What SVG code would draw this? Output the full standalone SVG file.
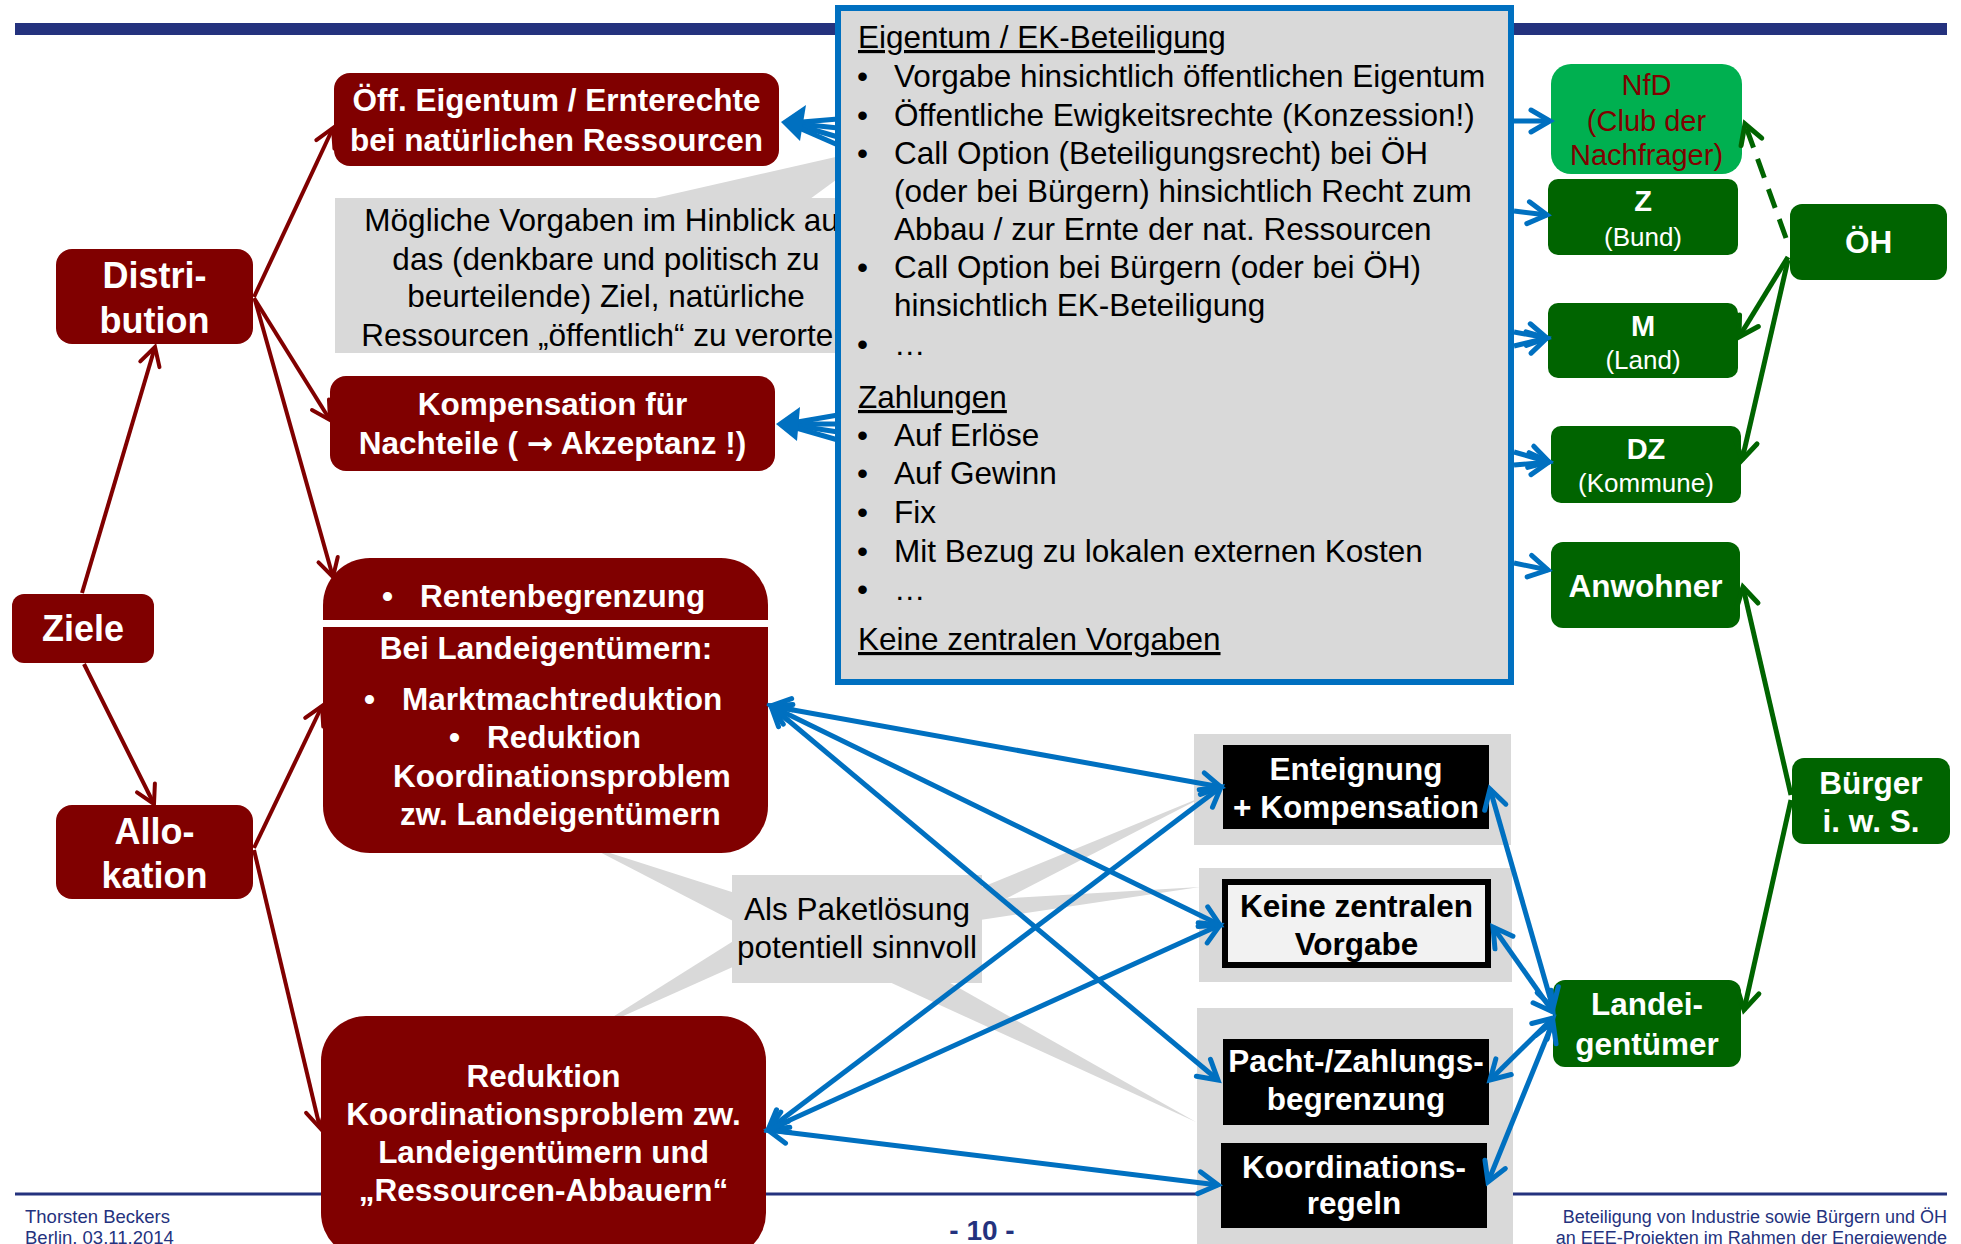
<svg xmlns="http://www.w3.org/2000/svg" width="1961" height="1244" viewBox="0 0 1961 1244">
<defs>
<style>
text{font-family:"Liberation Sans",Arial,"DejaVu Sans",sans-serif;}
.b{font-weight:bold;}
.w{fill:#fff;}
.k{fill:#000;}
.red{fill:#800000;}
.grn{fill:#006400;}
.gray{fill:#d9d9d9;}
.f31{font-size:31.5px;}
.f36{font-size:36px;}
.f29{font-size:29px;}
.f26{font-size:26px;}
.c{text-anchor:middle;}
.u{text-decoration:underline;}
.nv{fill:#24327e;}
.ar{font-family:"DejaVu Sans",sans-serif;}
.bl{fill:none;stroke:#0070c0;stroke-width:5;}
.rl{fill:none;stroke:#800000;stroke-width:4;}
.gl{fill:none;stroke:#006400;stroke-width:5;}
</style>
<marker id="mb" markerUnits="userSpaceOnUse" orient="auto-start-reverse" markerWidth="40" markerHeight="40" viewBox="-30 -20 40 40" refX="0" refY="0" overflow="visible"><path d="M-19,-11 L0,0 L-19,11" fill="none" stroke="#0070c0" stroke-width="5" stroke-linecap="round"/></marker>
<marker id="mr" markerUnits="userSpaceOnUse" orient="auto" markerWidth="40" markerHeight="40" viewBox="-30 -20 40 40" refX="0" refY="0" overflow="visible"><path d="M-18,-10 L0,0 L-18,10" fill="none" stroke="#800000" stroke-width="4" stroke-linecap="round"/></marker>
<marker id="mg" markerUnits="userSpaceOnUse" orient="auto" markerWidth="40" markerHeight="40" viewBox="-30 -20 40 40" refX="0" refY="0" overflow="visible"><path d="M-19,-11 L0,0 L-19,11" fill="none" stroke="#006400" stroke-width="5" stroke-linecap="round"/></marker>
</defs>

<rect x="0" y="0" width="1961" height="1244" fill="#fff"/>
<rect x="15" y="23" width="1932" height="12" fill="#24327e"/>
<line x1="15" y1="1194" x2="1947" y2="1194" stroke="#24327e" stroke-width="3"/>

<g id="callout-moegliche">
<polygon class="gray" points="651,199 840,156 840,177 810,199"/>
<rect class="gray" x="335" y="198" width="560" height="155"/>
<text class="f31 c k" x="606" y="231">Mögliche Vorgaben im Hinblick auf</text>
<text class="f31 c k" x="606" y="270">das (denkbare und politisch zu</text>
<text class="f31 c k" x="606" y="307">beurteilende) Ziel, natürliche</text>
<text class="f31 c k" x="606" y="346">Ressourcen „öffentlich“ zu verorten</text>
</g>

<g id="callout-paket">
<polygon class="gray" points="588,846 735,893 735,922"/>
<polygon class="gray" points="592,1030 735,940 735,966"/>
<polygon class="gray" points="980,888 1207,795 980,912"/>
<polygon class="gray" points="980,900 1200,887 980,920"/>
<polygon class="gray" points="885,980 945,980 1196,1122"/>
<rect class="gray" x="732" y="875" width="250" height="108"/>
<text class="f31 c k" x="857" y="920">Als Paketlösung</text>
<text class="f31 c k" x="857" y="958">potentiell sinnvoll</text>
</g>

<g id="bg-instrumente">
<rect class="gray" x="1194" y="734" width="317" height="111"/>
<rect class="gray" x="1199" y="868" width="313" height="114"/>
<rect class="gray" x="1197" y="1008" width="316" height="250"/>
</g>

<g id="n-ziele"><rect class="red" x="12" y="594" width="142" height="69" rx="12"/>
<text class="f36 b c w" x="83" y="641">Ziele</text></g>
<g id="n-distribution"><rect class="red" x="56" y="249" width="197" height="95" rx="16"/>
<text class="f36 b c w" x="154.5" y="288">Distri-</text><text class="f36 b c w" x="154.5" y="333">bution</text></g>
<g id="n-allokation"><rect class="red" x="56" y="805" width="197" height="94" rx="16"/>
<text class="f36 b c w" x="154.5" y="844">Allo-</text><text class="f36 b c w" x="154.5" y="888">kation</text></g>
<g id="n-oeff"><rect class="red" x="334" y="73" width="445" height="93" rx="16"/>
<text class="f31 b c w" x="556.5" y="111">Öff. Eigentum / Ernterechte</text>
<text class="f31 b c w" x="556.5" y="151">bei natürlichen Ressourcen</text></g>
<g id="n-kompensation"><rect class="red" x="330" y="376" width="445" height="95" rx="16"/>
<text class="f31 b c w" x="552.5" y="415">Kompensation für</text>
<text class="f31 b c w" x="552.5" y="454">Nachteile ( <tspan class="ar">→</tspan> Akzeptanz !)</text></g>
<g id="n-renten"><rect class="red" x="323" y="558" width="445" height="295" rx="47"/>
<rect fill="#fff" x="323" y="620" width="445" height="7"/>
<text class="f31 b w" x="382" y="607">•</text><text class="f31 b w" x="420" y="607">Rentenbegrenzung</text>
<text class="f31 b c w" x="546" y="659">Bei Landeigentümern:</text>
<text class="f31 b w" x="364" y="710">•</text><text class="f31 b w" x="402" y="710">Marktmachtreduktion</text>
<text class="f31 b w" x="449" y="748">•</text><text class="f31 b w" x="487" y="748">Reduktion</text>
<text class="f31 b w" x="393" y="787">Koordinationsproblem</text>
<text class="f31 b w" x="400" y="825">zw. Landeigentümern</text></g>
<g id="n-reduktion"><rect class="red" x="321" y="1016" width="445" height="242" rx="45"/>
<text class="f31 b c w" x="543.5" y="1087">Reduktion</text>
<text class="f31 b c w" x="543.5" y="1125">Koordinationsproblem zw.</text>
<text class="f31 b c w" x="543.5" y="1163">Landeigentümern und</text>
<text class="f31 b c w" x="543.5" y="1201">„Ressourcen-Abbauern“</text></g>

<g id="n-enteignung"><rect fill="#000" x="1223" y="745" width="266" height="84"/>
<text class="f31 b c w" x="1356" y="780">Enteignung</text><text class="f31 b c w" x="1356" y="818">+ Kompensation</text></g>
<g id="n-keine"><rect fill="#f2f2f2" stroke="#000" stroke-width="6" x="1225" y="882" width="263" height="83"/>
<text class="f31 b c k" x="1356.5" y="917">Keine zentralen</text><text class="f31 b c k" x="1356.5" y="955">Vorgabe</text></g>
<g id="n-pacht"><rect fill="#000" x="1223" y="1039" width="266" height="86"/>
<text class="f31 b c w" x="1356" y="1072">Pacht-/Zahlungs-</text><text class="f31 b c w" x="1356" y="1110">begrenzung</text></g>
<g id="n-koordination"><rect fill="#000" x="1221" y="1143" width="266" height="85"/>
<text class="f31 b c w" x="1354" y="1178">Koordinations-</text><text class="f31 b c w" x="1354" y="1214">regeln</text></g>

<g id="n-nfd"><rect fill="#00b050" x="1551" y="64" width="191" height="110" rx="20"/>
<text class="f29 c red" x="1646.5" y="95">NfD</text><text class="f29 c red" x="1646.5" y="131">(Club der</text><text class="f29 c red" x="1646.5" y="165">Nachfrager)</text></g>
<g id="n-z"><rect class="grn" x="1548" y="179" width="190" height="76" rx="10"/>
<text class="f29 b c w" x="1643" y="211">Z</text><text class="f26 c w" x="1643" y="246">(Bund)</text></g>
<g id="n-m"><rect class="grn" x="1548" y="303" width="190" height="75" rx="10"/>
<text class="f29 b c w" x="1643" y="336">M</text><text class="f26 c w" x="1643" y="369">(Land)</text></g>
<g id="n-dz"><rect class="grn" x="1551" y="426" width="190" height="77" rx="10"/>
<text class="f29 b c w" x="1646" y="459">DZ</text><text class="f26 c w" x="1646" y="492">(Kommune)</text></g>
<g id="n-anwohner"><rect class="grn" x="1551" y="542" width="189" height="86" rx="12"/>
<text class="f31 b c w" x="1645.5" y="597">Anwohner</text></g>
<g id="n-landeigentuemer"><rect class="grn" x="1553" y="980" width="188" height="87" rx="12"/>
<text class="f31 b c w" x="1647" y="1015">Landei-</text><text class="f31 b c w" x="1647" y="1055">gentümer</text></g>
<g id="n-oeh"><rect class="grn" x="1790" y="204" width="157" height="76" rx="12"/>
<text class="f31 b c w" x="1868.5" y="253">ÖH</text></g>
<g id="n-buerger"><rect class="grn" x="1792" y="758" width="158" height="86" rx="12"/>
<text class="f31 b c w" x="1871" y="794">Bürger</text><text class="f31 b c w" x="1871" y="832">i. w. S.</text></g>

<g id="n-beteiligung">
<rect x="838" y="8" width="673" height="674" fill="#d9d9d9" stroke="#0070c0" stroke-width="6"/>
<text class="f31 k u" x="858" y="48">Eigentum / EK-Beteiligung</text>
<text class="f31 k" x="857" y="87">•</text><text class="f31 k" x="894" y="87">Vorgabe hinsichtlich öffentlichen Eigentum</text>
<text class="f31 k" x="857" y="126">•</text><text class="f31 k" x="894" y="126">Öffentliche Ewigkeitsrechte (Konzession!)</text>
<text class="f31 k" x="857" y="164">•</text><text class="f31 k" x="894" y="164">Call Option (Beteiligungsrecht) bei ÖH</text>
<text class="f31 k" x="894" y="202">(oder bei Bürgern) hinsichtlich Recht zum</text>
<text class="f31 k" x="894" y="240">Abbau / zur Ernte der nat. Ressourcen</text>
<text class="f31 k" x="857" y="278">•</text><text class="f31 k" x="894" y="278">Call Option bei Bürgern (oder bei ÖH)</text>
<text class="f31 k" x="894" y="316">hinsichtlich EK-Beteiligung</text>
<text class="f31 k" x="857" y="355">•</text><text class="f31 k" x="894" y="355">…</text>
<text class="f31 k u" x="858" y="408">Zahlungen</text>
<text class="f31 k" x="857" y="446">•</text><text class="f31 k" x="894" y="446">Auf Erlöse</text>
<text class="f31 k" x="857" y="484">•</text><text class="f31 k" x="894" y="484">Auf Gewinn</text>
<text class="f31 k" x="857" y="523">•</text><text class="f31 k" x="894" y="523">Fix</text>
<text class="f31 k" x="857" y="562">•</text><text class="f31 k" x="894" y="562">Mit Bezug zu lokalen externen Kosten</text>
<text class="f31 k" x="857" y="600">•</text><text class="f31 k" x="894" y="600">…</text>
<text class="f31 k u" x="858" y="650">Keine zentralen Vorgaben</text>
</g>

<g id="connectors">
<line class="rl" x1="82" y1="593" x2="155" y2="347" marker-end="url(#mr)"/>
<line class="rl" x1="84" y1="664" x2="154" y2="804" marker-end="url(#mr)"/>
<line class="rl" x1="254" y1="297" x2="333" y2="128" marker-end="url(#mr)"/>
<line class="rl" x1="254" y1="298" x2="330" y2="420" marker-end="url(#mr)"/>
<line class="rl" x1="255" y1="300" x2="333" y2="577" marker-end="url(#mr)"/>
<line class="rl" x1="254" y1="848" x2="322" y2="706" marker-end="url(#mr)"/>
<line class="rl" x1="254" y1="850" x2="320" y2="1128" marker-end="url(#mr)"/>

<line class="bl" x1="838" y1="119" x2="790" y2="123"/>
<line class="bl" x1="838" y1="128" x2="790" y2="123"/>
<line class="bl" x1="838" y1="137" x2="790" y2="123"/>
<line class="bl" x1="838" y1="145" x2="790" y2="124"/>
<polygon fill="#0070c0" points="781,122 806,105 800,141"/>
<line class="bl" x1="838" y1="415" x2="786" y2="424"/>
<line class="bl" x1="838" y1="424" x2="786" y2="424"/>
<line class="bl" x1="838" y1="432" x2="786" y2="424"/>
<line class="bl" x1="838" y1="440" x2="786" y2="425"/>
<polygon fill="#0070c0" points="776,424 800,407 797,441"/>

<line class="bl" x1="1514" y1="121" x2="1550" y2="121" marker-end="url(#mb)"/>
<line class="bl" x1="1514" y1="211" x2="1547" y2="215" marker-end="url(#mb)"/>
<line class="bl" x1="1514" y1="332" x2="1547" y2="338" marker-end="url(#mb)"/>
<line class="bl" x1="1514" y1="346" x2="1547" y2="338" marker-end="url(#mb)"/>
<line class="bl" x1="1514" y1="452" x2="1549" y2="462" marker-end="url(#mb)"/>
<line class="bl" x1="1514" y1="465" x2="1549" y2="462" marker-end="url(#mb)"/>
<line class="bl" x1="1514" y1="563" x2="1548" y2="570" marker-end="url(#mb)"/>

<line class="bl" x1="771" y1="706" x2="1221" y2="787" marker-start="url(#mb)" marker-end="url(#mb)"/>
<line class="bl" x1="771" y1="706" x2="1220" y2="925" marker-start="url(#mb)" marker-end="url(#mb)"/>
<line class="bl" x1="771" y1="706" x2="1218" y2="1080" marker-start="url(#mb)" marker-end="url(#mb)"/>
<line class="bl" x1="768" y1="1130" x2="1221" y2="787" marker-start="url(#mb)" marker-end="url(#mb)"/>
<line class="bl" x1="768" y1="1130" x2="1220" y2="925" marker-start="url(#mb)" marker-end="url(#mb)"/>
<line class="bl" x1="768" y1="1130" x2="1218" y2="1185" marker-start="url(#mb)" marker-end="url(#mb)"/>

<line class="bl" x1="1490" y1="789" x2="1553" y2="1008" marker-start="url(#mb)" marker-end="url(#mb)"/>
<line class="bl" x1="1493" y1="927" x2="1553" y2="1012" marker-start="url(#mb)" marker-end="url(#mb)"/>
<line class="bl" x1="1490" y1="1080" x2="1553" y2="1018" marker-start="url(#mb)" marker-end="url(#mb)"/>
<line class="bl" x1="1488" y1="1182" x2="1553" y2="1022" marker-start="url(#mb)" marker-end="url(#mb)"/>

<line class="gl" x1="1786" y1="238" x2="1745" y2="124" stroke-dasharray="20,12" marker-end="url(#mg)"/>
<line class="gl" x1="1788" y1="257" x2="1739" y2="337" marker-end="url(#mg)"/>
<line class="gl" x1="1788" y1="260" x2="1742" y2="460" marker-end="url(#mg)"/>
<line class="gl" x1="1791" y1="795" x2="1743" y2="587" marker-end="url(#mg)"/>
<line class="gl" x1="1791" y1="800" x2="1744" y2="1010" marker-end="url(#mg)"/>
</g>

<g id="footer">
<text class="nv" x="25" y="1223" font-size="18.5">Thorsten Beckers</text>
<text class="nv" x="25" y="1244" font-size="18.5">Berlin, 03.11.2014</text>
<text class="nv b c" x="982" y="1240" font-size="28">- 10 -</text>
<text class="nv" x="1947" y="1223" font-size="18" text-anchor="end">Beteiligung von Industrie sowie Bürgern und ÖH</text>
<text class="nv" x="1947" y="1244" font-size="18" text-anchor="end">an EEE-Projekten im Rahmen der Energiewende</text>
</g>
</svg>
